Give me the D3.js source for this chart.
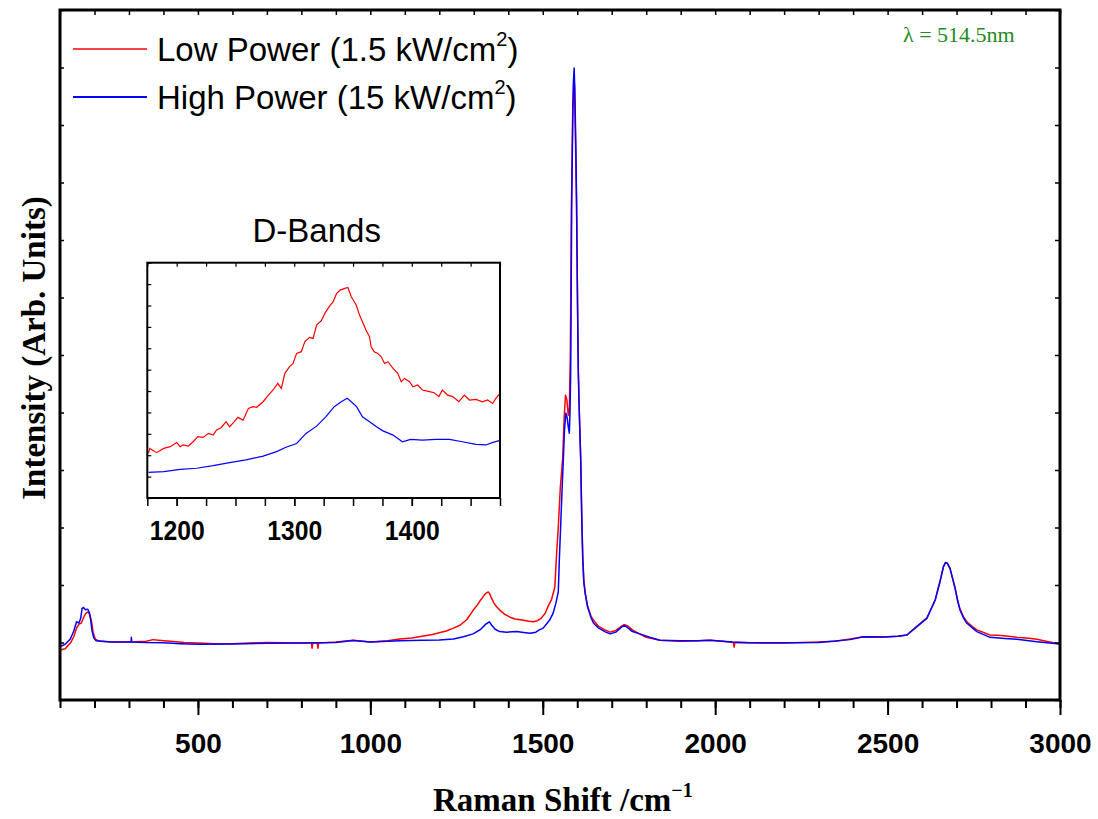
<!DOCTYPE html>
<html><head><meta charset="utf-8">
<script src="https://cdn.jsdelivr.net/npm/d3@7/dist/d3.min.js"></script>
<style>body{margin:0;background:#fff}</style>
</head><body>
<svg id="c" width="1098" height="819" xmlns="http://www.w3.org/2000/svg"></svg>
<script>
// ---- data (Raman shift cm^-1, intensity arb. units) ----
const seriesNames = ["Low Power (1.5 kW/cm", "High Power (15 kW/cm"];
const seriesColors = ["#ff0000", "#0000ff"];
const xMajorTicks = [500, 1000, 1500, 2000, 2500, 3000];
const insetTicks = [1200, 1300, 1400];

const lowPower = [
[100,8.7],[115,8.9],[130,9.9],[140,11.0],[148,12.5],[155,13.2],[162,13.4],[168,14.3],[174,15.0],[180,15.3],[186,14.9],[191,13.8],[196,11.8],[202,10.6],[215,10.2],[250,10.1],[300,10.1],[350,10.2],[370,10.5],[385,10.4],[420,10.2],[460,10.0],[500,9.9],[550,9.8],[600,9.8],[650,9.9],[700,10.0],[750,9.95],[800,9.9],[829,9.9],[831,9.0],[833,9.9],[846,9.9],[848,9.0],[850,9.9],[900,10.1],[950,10.4],[1000,10.1],[1050,10.3],[1086,10.6],[1120,10.8],[1150,11.1],[1180,11.4],[1200,11.7],[1220,12.0],[1241,12.5],[1260,13.0],[1280,14.0],[1298,15.6],[1310,16.5],[1320,17.4],[1330,18.2],[1336,18.6],[1342,18.8],[1346,18.5],[1350,17.9],[1358,16.9],[1365,16.3],[1376,15.6],[1390,14.9],[1405,14.4],[1420,14.1],[1440,13.9],[1460,13.7],[1472,13.6],[1485,13.8],[1495,14.2],[1507,15.1],[1517,16.5],[1525,17.4],[1535,19.6],[1539,24.3],[1545,30.0],[1551,37.0],[1555,40.0],[1558,42.3],[1562,49.0],[1566,53.0],[1570,52.2],[1574,49.5],[1577,50.0],[1580,60.0],[1583,85.0],[1587,103.0],[1590,108.0],[1592,107.0],[1595,97.0],[1598,86.0],[1601,68.0],[1603,58.0],[1606,50.0],[1610,42.0],[1613,32.0],[1616,25.0],[1619,21.0],[1623,18.6],[1630,16.3],[1640,14.6],[1647,13.9],[1660,12.9],[1680,12.2],[1695,11.8],[1712,12.1],[1725,12.7],[1736,13.1],[1746,12.9],[1760,12.2],[1780,11.5],[1800,10.9],[1840,10.4],[1900,10.2],[1950,10.3],[1985,10.4],[2020,10.2],[2053,10.0],[2055,9.2],[2057,10.0],[2101,9.95],[2150,9.9],[2200,9.9],[2250,10.0],[2300,10.1],[2350,10.2],[2391,10.6],[2430,11.0],[2488,10.95],[2530,11.1],[2556,11.3],[2585,12.8],[2614,14.3],[2638,17.4],[2652,20.6],[2662,23.2],[2668,23.9],[2673,23.8],[2681,22.9],[2690,20.8],[2696,19.4],[2703,17.3],[2710,15.8],[2720,14.5],[2730,13.6],[2745,12.8],[2759,12.2],[2797,11.3],[2830,11.2],[2875,10.9],[2910,10.75],[2933,10.56],[2970,10.1],[3000,9.74]
];

const highPower = [
[100,9.27],[115,9.7],[130,10.6],[140,12.0],[148,13.6],[155,13.4],[160,14.2],[164,15.9],[168,16.1],[174,15.7],[180,15.8],[185,15.3],[189,13.9],[193,12.0],[198,10.8],[205,10.3],[250,10.1],[306,10.1],[307,10.9],[308,10.1],[350,10.0],[400,9.95],[450,9.8],[500,9.7],[600,9.75],[700,9.85],[800,9.9],[900,10.0],[950,10.35],[1000,10.1],[1086,10.3],[1150,10.4],[1200,10.45],[1241,10.6],[1270,11.0],[1298,11.5],[1320,12.3],[1335,13.2],[1345,13.6],[1352,13.0],[1362,12.3],[1375,11.9],[1395,11.8],[1424,11.9],[1450,11.7],[1463,11.6],[1480,11.8],[1490,12.2],[1501,12.5],[1512,13.3],[1520,13.9],[1530,15.1],[1538,16.8],[1545,18.8],[1548,24.3],[1553,32.0],[1557,38.0],[1560,42.3],[1563,47.0],[1567,49.9],[1571,49.0],[1574,47.5],[1577,46.4],[1579,50.0],[1581,57.0],[1584,87.0],[1587,101.0],[1589,107.5],[1591,109.9],[1593,106.0],[1596,96.0],[1598,87.0],[1601,68.0],[1603,57.0],[1606,50.0],[1610,42.0],[1613,32.0],[1616,24.3],[1619,20.5],[1623,18.6],[1630,16.2],[1640,14.3],[1647,13.4],[1660,12.6],[1680,11.9],[1695,11.5],[1712,11.8],[1725,12.5],[1736,13.0],[1746,12.6],[1760,11.9],[1782,11.5],[1810,10.9],[1840,10.4],[1900,10.3],[1950,10.3],[1985,10.4],[2050,10.1],[2101,9.97],[2200,9.95],[2300,10.0],[2391,10.5],[2430,11.0],[2488,10.95],[2530,11.1],[2556,11.3],[2585,12.75],[2614,14.2],[2638,17.4],[2652,20.6],[2662,23.2],[2668,23.9],[2673,23.8],[2681,22.9],[2690,20.8],[2696,19.4],[2703,17.3],[2710,15.65],[2720,14.3],[2730,13.34],[2745,12.6],[2759,11.9],[2797,10.9],[2840,10.7],[2875,10.56],[2933,10.14],[2970,9.9],[3000,9.74]
];

// inset (D-band region), own intensity units
const insetLow = [
[1176,2.09],[1177,2.32],[1183,2.12],[1189,2.32],[1194.5,2.40],[1200,2.59],[1203,2.40],[1205.5,2.48],[1210,2.43],[1214,2.63],[1218,2.87],[1222.5,2.83],[1227,3.02],[1231,2.94],[1234,3.18],[1238,3.30],[1242,3.57],[1245,3.33],[1249,3.57],[1252,3.77],[1256.5,3.64],[1261,4.19],[1265,4.27],[1268,4.24],[1273.5,4.50],[1278,4.81],[1282,5.05],[1286,5.36],[1289,5.12],[1292,5.83],[1296,6.14],[1299,6.29],[1302,6.76],[1306,6.84],[1309,7.31],[1313,7.51],[1316,7.46],[1319,8.08],[1323,8.29],[1326,8.63],[1330,8.97],[1333,9.17],[1336,9.56],[1339,9.72],[1343,9.80],[1345.6,9.84],[1348.5,9.41],[1352.7,9.02],[1355.5,8.55],[1358,8.24],[1361,7.85],[1364,7.54],[1365.4,7.07],[1368,6.84],[1371,6.76],[1374,6.60],[1376.8,6.29],[1379.6,6.37],[1384,6.06],[1388,5.83],[1391,5.44],[1393.7,5.59],[1398,5.44],[1401,5.20],[1405,5.28],[1409,5.05],[1415,4.97],[1419,4.92],[1423,4.74],[1426,5.05],[1430.5,4.81],[1434.8,4.74],[1440,4.50],[1444.7,4.81],[1449,4.58],[1454.6,4.61],[1460,4.50],[1464.5,4.58],[1468.7,4.42],[1471.5,4.66],[1474.4,4.86]
];
const insetHigh = [
[1176,1.20],[1189,1.23],[1203,1.34],[1217,1.39],[1231,1.51],[1245,1.65],[1259,1.78],[1273.5,1.96],[1285,2.17],[1293,2.37],[1302,2.55],[1310,3.02],[1319,3.36],[1327,3.80],[1334,4.27],[1340,4.50],[1345,4.66],[1348.5,4.50],[1353,4.27],[1358,3.80],[1364,3.57],[1370,3.33],[1375,3.15],[1384,2.94],[1392,2.63],[1399,2.74],[1409,2.71],[1420.6,2.74],[1432,2.74],[1443,2.63],[1454.6,2.51],[1463,2.48],[1469,2.60],[1474.4,2.68]
];

// ---- drawing ----
const svg = d3.select("#c");
const W = {l:60, r:1060, t:10, b:700};
const x = d3.scaleLinear().domain([100, 3000]).range([W.l, W.r]);
const y = d3.scaleLinear().domain([0, 120]).range([W.b, W.t]);

const line = d3.line().x(d => x(d[0])).y(d => y(d[1]));
[lowPower, highPower].forEach((s, i) => {
  svg.append("path").datum(s).attr("d", line)
    .attr("fill", "none").attr("stroke", seriesColors[i])
    .attr("stroke-width", 1.5).attr("stroke-linejoin", "round");
});

// axes
const minorX = d3.range(100, 3001, 100);
svg.append("g").attr("transform", `translate(0,${W.b})`)
  .call(d3.axisBottom(x).tickValues(minorX).tickSize(8).tickFormat(""))
  .call(g => { g.select(".domain").remove(); g.selectAll("line").attr("stroke-width", 2); });
svg.append("g").attr("transform", `translate(0,${W.b})`)
  .call(d3.axisBottom(x).tickValues(xMajorTicks).tickSize(15).tickPadding(18).tickFormat(d3.format("d")))
  .call(g => {
    g.select(".domain").remove();
    g.selectAll("line").attr("stroke-width", 2);
    g.selectAll("text").attr("font-family", "Arial, 'Liberation Sans', sans-serif")
      .attr("font-weight", "bold").attr("font-size", 28).attr("fill", "#000");
  });
svg.append("g").attr("transform", `translate(0,${W.t})`)
  .call(d3.axisTop(x).tickValues(minorX).tickSize(-5).tickFormat(""))
  .call(g => { g.select(".domain").remove(); g.selectAll("line").attr("stroke-width", 1.5); });
const yT = d3.range(0, 121, 10);
svg.append("g").attr("transform", `translate(${W.l},0)`)
  .call(d3.axisLeft(y).tickValues(yT).tickSize(-4).tickFormat(""))
  .call(g => { g.select(".domain").remove(); g.selectAll("line").attr("stroke-width", 1.5); });
svg.append("g").attr("transform", `translate(${W.r},0)`)
  .call(d3.axisRight(y).tickValues(yT).tickSize(-5).tickFormat(""))
  .call(g => { g.select(".domain").remove(); g.selectAll("line").attr("stroke-width", 1.5); });

svg.append("rect").attr("x", W.l).attr("y", W.t).attr("width", W.r - W.l).attr("height", W.b - W.t)
  .attr("fill", "none").attr("stroke", "#000").attr("stroke-width", 3);

// axis titles
svg.append("text").attr("x", 433).attr("y", 811)
  .attr("font-family", "'Times New Roman', 'Liberation Serif', serif").attr("font-weight", "bold")
  .attr("font-size", 33).attr("fill", "#000")
  .call(t => {
    t.append("tspan").text("Raman Shift /cm");
    t.append("tspan").attr("font-size", 20).attr("dy", -14).text("\u22121");
  });
svg.append("text").attr("transform", "translate(45,348) rotate(-90)")
  .attr("text-anchor", "middle")
  .attr("font-family", "'Times New Roman', 'Liberation Serif', serif").attr("font-weight", "bold")
  .attr("font-size", 33).attr("fill", "#000").text("Intensity (Arb. Units)");

// legend
const legY = [49, 97], legBase = [61, 109];
seriesNames.forEach((n, i) => {
  svg.append("line").attr("x1", 73).attr("x2", 147).attr("y1", legY[i]).attr("y2", legY[i])
    .attr("stroke", seriesColors[i]).attr("stroke-width", i ? 2 : 1.3);
  svg.append("text").attr("x", 157).attr("y", legBase[i])
    .attr("font-family", "Arial, 'Liberation Sans', sans-serif").attr("font-size", 33).attr("fill", "#000")
    .call(t => {
      t.append("tspan").text(n);
      t.append("tspan").attr("font-size", 20).attr("dy", -15).text("2");
      t.append("tspan").attr("dy", 15).text(")");
    });
});

// wavelength
svg.append("text").attr("x", 903).attr("y", 42)
  .attr("font-family", "'Times New Roman', 'Liberation Serif', serif").attr("font-size", 22)
  .attr("fill", "#228b22").text("\u03bb = 514.5nm");

// ---- inset ----
const I = {l:147.3, r:500, t:262.7, b:498};
const xi = d3.scaleLinear().domain([1175, 1475]).range([I.l, I.r]);
const yi = d3.scaleLinear().domain([0, 11]).range([I.b, I.t]);
const iline = d3.line().x(d => xi(d[0])).y(d => yi(d[1]));
[insetLow, insetHigh].forEach((s, i) => {
  svg.append("path").datum(s).attr("d", iline)
    .attr("fill", "none").attr("stroke", seriesColors[i]).attr("stroke-width", 1.2);
});
const iMinor = d3.range(1175, 1476, 25);
svg.append("g").attr("transform", `translate(0,${I.b})`)
  .call(d3.axisBottom(xi).tickValues(iMinor).tickSize(8).tickFormat(""))
  .call(g => { g.select(".domain").remove(); g.selectAll("line").attr("stroke-width", 1.5); });
svg.append("g").attr("transform", `translate(0,${I.b})`)
  .call(d3.axisBottom(xi).tickValues(insetTicks).tickSize(8).tickPadding(14).tickFormat(d3.format("d")))
  .call(g => {
    g.select(".domain").remove();
    g.selectAll("line").attr("stroke-width", 1.5);
    g.selectAll("text").attr("font-family", "Arial, 'Liberation Sans', sans-serif")
      .attr("font-weight", "bold").attr("font-size", 28).attr("fill", "#000")
      .attr("textLength", 55).attr("lengthAdjust", "spacingAndGlyphs");
  });
svg.append("g").attr("transform", `translate(0,${I.t})`)
  .call(d3.axisTop(xi).tickValues(iMinor).tickSize(-4).tickFormat(""))
  .call(g => { g.select(".domain").remove(); g.selectAll("line").attr("stroke-width", 1.2); });
svg.append("g").attr("transform", `translate(${I.l},0)`)
  .call(d3.axisLeft(yi).tickValues(d3.range(0, 12, 1)).tickSize(-4).tickFormat(""))
  .call(g => { g.select(".domain").remove(); g.selectAll("line").attr("stroke-width", 1.2); });
svg.append("rect").attr("x", I.l).attr("y", I.t).attr("width", I.r - I.l).attr("height", I.b - I.t)
  .attr("fill", "none").attr("stroke", "#000").attr("stroke-width", 2);
svg.append("text").attr("x", 316.7).attr("y", 242).attr("text-anchor", "middle")
  .attr("font-family", "Arial, 'Liberation Sans', sans-serif").attr("font-size", 33)
  .attr("fill", "#000").text("D-Bands");
</script>
</body></html>
